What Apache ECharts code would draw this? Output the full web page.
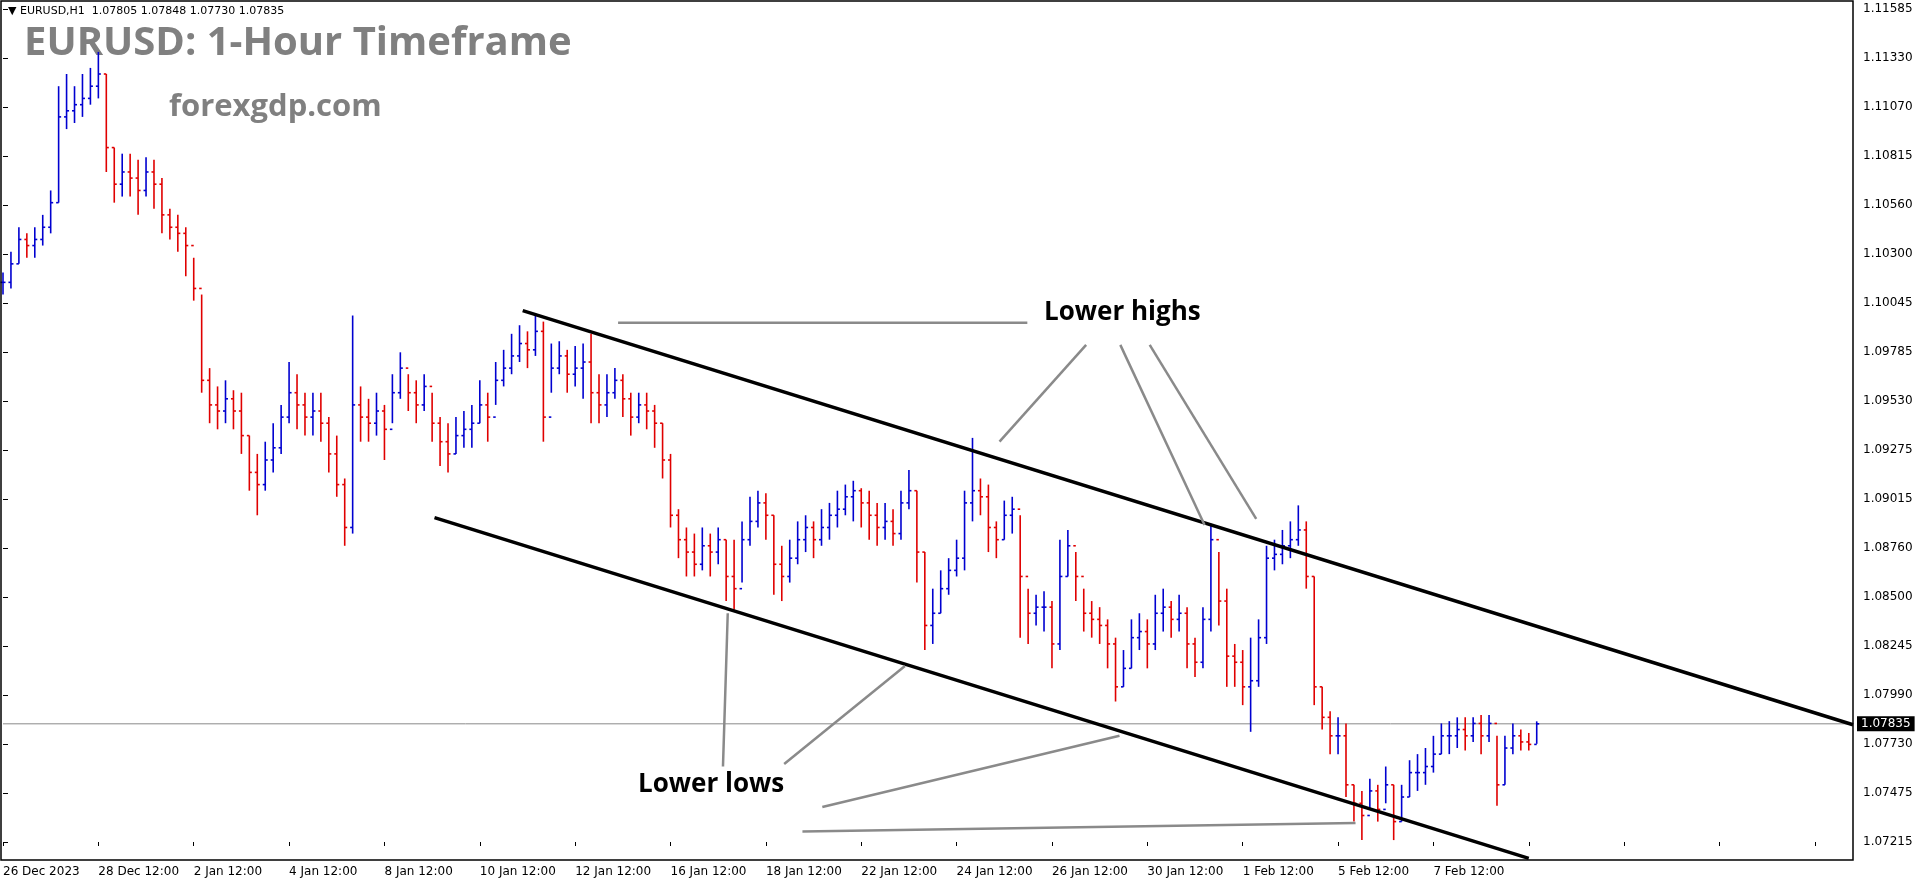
<!DOCTYPE html>
<html><head><meta charset="utf-8">
<script src="https://cdn.jsdelivr.net/npm/echarts@6/dist/echarts.min.js"></script>
<style>html,body{margin:0;padding:0;background:#fff}#c{width:1916px;height:884px}</style>
</head><body><div id="c"></div>
<script>
const closes=[1.10151,1.10248,1.10376,1.10344,1.10376,1.10440,1.10569,1.11019,1.11051,1.11083,1.11116,1.11180,1.11244,1.10858,1.10666,1.10730,1.10698,1.10633,1.10730,1.10666,
1.10505,1.10440,1.10408,1.10344,1.10119,1.09637,1.09508,1.09476,1.09540,1.09476,1.09347,1.09154,1.09090,1.09219,1.09283,1.09444,1.09572,1.09508,1.09444,1.09476,
1.09412,1.09251,1.09090,1.08865,1.09508,1.09444,1.09412,1.09476,1.09380,1.09572,1.09701,1.09572,1.09508,1.09605,1.09412,1.09315,1.09251,1.09347,1.09380,1.09412,
1.09508,1.09444,1.09637,1.09701,1.09765,1.09830,1.09797,1.09894,1.09444,1.09701,1.09765,1.09669,1.09701,1.09733,1.09572,1.09508,1.09572,1.09637,1.09540,1.09444,
1.09508,1.09476,1.09412,1.09219,1.08929,1.08801,1.08736,1.08672,1.08769,1.08736,1.08801,1.08608,1.08544,1.08801,1.08897,1.08994,1.08929,1.08672,1.08608,1.08704,
1.08801,1.08865,1.08801,1.08865,1.08929,1.08961,1.09026,1.09058,1.08994,1.08929,1.08865,1.08897,1.08833,1.08994,1.09058,1.08736,1.08351,1.08415,1.08544,1.08640,
1.08704,1.08994,1.09058,1.09026,1.08865,1.08801,1.08929,1.08961,1.08608,1.08415,1.08447,1.08447,1.08254,1.08608,1.08769,1.08608,1.08415,1.08383,1.08351,1.08254,
1.08029,1.08126,1.08287,1.08319,1.08254,1.08415,1.08447,1.08383,1.08415,1.08254,1.08158,1.08383,1.08801,1.08479,1.08190,1.08158,1.08029,1.08061,1.08287,1.08704,
1.08724,1.08769,1.08801,1.08852,1.08608,1.08029,1.07869,1.07772,1.07772,1.07515,1.07418,1.07354,1.07483,1.07386,1.07515,1.07322,1.07451,1.07579,1.07579,1.07611,
1.07676,1.07772,1.07772,1.07805,1.07772,1.07837,1.07772,1.07837,1.07515,1.07708,1.07772,1.07740,1.07727,1.07835];
const highs=[1.10203,1.10312,1.10440,1.10408,1.10440,1.10505,1.10633,1.11180,1.11244,1.11180,1.11244,1.11276,1.11360,1.11244,1.10858,1.10826,1.10826,1.10794,1.10807,1.10794,
1.10698,1.10537,1.10505,1.10440,1.10280,1.10087,1.09701,1.09605,1.09637,1.09585,1.09572,1.09347,1.09251,1.09315,1.09412,1.09508,1.09733,1.09669,1.09572,1.09572,
1.09572,1.09444,1.09347,1.09122,1.09977,1.09605,1.09540,1.09572,1.09508,1.09669,1.09784,1.09669,1.09637,1.09669,1.09572,1.09444,1.09412,1.09444,1.09476,1.09508,
1.09637,1.09572,1.09733,1.09797,1.09881,1.09926,1.09894,1.09990,1.09945,1.09830,1.09842,1.09797,1.09817,1.09830,1.09881,1.09669,1.09669,1.09701,1.09669,1.09572,
1.09572,1.09572,1.09508,1.09412,1.09251,1.08961,1.08865,1.08833,1.08865,1.08833,1.08865,1.08801,1.08801,1.08897,1.09026,1.09058,1.09045,1.08929,1.08769,1.08801,
1.08897,1.08929,1.08897,1.08961,1.08994,1.09058,1.09090,1.09110,1.09071,1.09058,1.08994,1.08994,1.08961,1.09058,1.09167,1.09058,1.08736,1.08544,1.08640,1.08704,
1.08801,1.09058,1.09335,1.09122,1.09090,1.08897,1.09006,1.09026,1.08929,1.08544,1.08512,1.08531,1.08479,1.08801,1.08852,1.08736,1.08544,1.08479,1.08447,1.08383,
1.08287,1.08222,1.08383,1.08415,1.08383,1.08512,1.08544,1.08479,1.08512,1.08447,1.08287,1.08447,1.08884,1.08736,1.08544,1.08254,1.08222,1.08287,1.08383,1.08769,
1.08801,1.08852,1.08897,1.08981,1.08897,1.08608,1.08029,1.07901,1.07869,1.07837,1.07515,1.07483,1.07547,1.07515,1.07611,1.07515,1.07515,1.07644,1.07676,1.07708,
1.07772,1.07837,1.07849,1.07869,1.07869,1.07869,1.07881,1.07881,1.07772,1.07772,1.07837,1.07805,1.07787,1.07848];
const lows=[1.10087,1.10119,1.10248,1.10280,1.10280,1.10344,1.10408,1.10569,1.10955,1.10987,1.11019,1.11083,1.11116,1.10730,1.10569,1.10601,1.10601,1.10505,1.10601,1.10537,
1.10408,1.10376,1.10312,1.10183,1.10055,1.09572,1.09412,1.09380,1.09412,1.09380,1.09251,1.09058,1.08929,1.09058,1.09154,1.09251,1.09412,1.09380,1.09347,1.09347,
1.09315,1.09154,1.09026,1.08769,1.08833,1.09315,1.09315,1.09347,1.09219,1.09412,1.09540,1.09476,1.09412,1.09476,1.09315,1.09187,1.09154,1.09251,1.09283,1.09283,
1.09412,1.09315,1.09508,1.09605,1.09669,1.09733,1.09701,1.09765,1.09315,1.09572,1.09669,1.09572,1.09605,1.09540,1.09412,1.09412,1.09444,1.09540,1.09444,1.09347,
1.09412,1.09380,1.09283,1.09122,1.08865,1.08704,1.08608,1.08608,1.08640,1.08608,1.08672,1.08479,1.08434,1.08576,1.08769,1.08865,1.08801,1.08512,1.08479,1.08576,
1.08672,1.08736,1.08704,1.08769,1.08801,1.08865,1.08929,1.08897,1.08865,1.08801,1.08769,1.08801,1.08769,1.08801,1.08961,1.08576,1.08222,1.08254,1.08415,1.08512,
1.08608,1.08640,1.08897,1.08929,1.08736,1.08704,1.08801,1.08833,1.08287,1.08254,1.08351,1.08319,1.08126,1.08222,1.08608,1.08479,1.08319,1.08287,1.08254,1.08126,
1.07952,1.08029,1.08126,1.08222,1.08126,1.08222,1.08319,1.08287,1.08319,1.08126,1.08081,1.08126,1.08319,1.08351,1.08029,1.08029,1.07933,1.07793,1.08029,1.08254,
1.08640,1.08672,1.08704,1.08769,1.08544,1.07933,1.07805,1.07676,1.07676,1.07451,1.07322,1.07225,1.07386,1.07322,1.07418,1.07225,1.07322,1.07451,1.07483,1.07515,
1.07579,1.07676,1.07676,1.07708,1.07695,1.07740,1.07676,1.07740,1.07405,1.07515,1.07676,1.07695,1.07695,1.07730];
const timeLabels=['26 Dec 2023','28 Dec 12:00','2 Jan 12:00','4 Jan 12:00','8 Jan 12:00','10 Jan 12:00','12 Jan 12:00','16 Jan 12:00','18 Jan 12:00','22 Jan 12:00','24 Jan 12:00','26 Jan 12:00','30 Jan 12:00','1 Feb 12:00','5 Feb 12:00','7 Feb 12:00'];
const priceLabels=['1.07215','1.07475','1.07730','1.07990','1.08245','1.08500','1.08760','1.09015','1.09275','1.09530','1.09785','1.10045','1.10300','1.10560','1.10815','1.11070','1.11330','1.11585'];
const lastPrice=1.07835;
const upperChannel=[[65.4,1.10003],[232.8,1.07830]];
const lowerChannel=[[54.3,1.08917],[192,1.07129]];
const highsPointers=[[[77.4,1.09939],[128.9,1.09939]],[[136.3,1.09823],[125.4,1.09315]],[[140.6,1.09823],[151.2,1.08878]],[[144.3,1.09823],[157.7,1.08910]]];
const lowsPointers=[[[91.2,1.08415],[90.6,1.07611]],[[113.5,1.08138],[98.3,1.07624]],[[140.5,1.07772],[103.1,1.07399]],[[170.2,1.07315],[100.6,1.07270]]];

const pMin=1.07215,pMax=1.11585,pInt=(pMax-pMin)/17;
const bars=closes.map((c,i)=>[i,i?closes[i-1]:c,highs[i],lows[i],c]);
const lineSeries=(pts,color,w)=>({type:'line',data:pts,symbol:'none',clip:false,silent:true,lineStyle:{color:color,width:w},z:5});
const series=[
 {type:'line',data:[[0,lastPrice],[232.8,lastPrice]],symbol:'none',silent:true,lineStyle:{color:'#8a8a8a',width:1},z:1,
  endLabel:{show:true,formatter:'1.07835',color:'#fff',backgroundColor:'#000',padding:[2,4,1,4],fontSize:12,fontFamily:'DejaVu Sans',distance:4}},
 {type:'custom',data:bars,clip:false,encode:{x:0,y:[1,2,3,4]},z:3,
 renderItem:(p,api)=>{const i=api.value(0),o=api.value(1),h=api.value(2),l=api.value(3),c=api.value(4);
  const ph=api.coord([i,h]),pl=api.coord([i,l]),po=api.coord([i,o]),pc=api.coord([i,c]);
  const col=c>=o?'#0000d0':'#e00000';const st={stroke:col,lineWidth:1.6};
  return {type:'group',children:[
   {type:'line',shape:{x1:ph[0],y1:ph[1],x2:pl[0],y2:pl[1]},style:st},
   {type:'line',shape:{x1:po[0]-2.5,y1:po[1],x2:po[0],y2:po[1]},style:st},
   {type:'line',shape:{x1:pc[0],y1:pc[1],x2:pc[0]+2.5,y2:pc[1]},style:st}]};}},
 lineSeries(upperChannel,'#000',3.5),lineSeries(lowerChannel,'#000',3.5)
];
highsPointers.concat(lowsPointers).forEach(p=>series.push(lineSeries(p,'#8a8a8a',2.5)));
const chart=echarts.init(document.getElementById('c'));
chart.setOption({animation:false,
 grid:{left:3,right:63,top:9,bottom:42},
 xAxis:{type:'value',min:0,max:232.8,interval:12,splitLine:{show:false},axisLine:{show:false},
  axisTick:{show:true,length:4,inside:false,lineStyle:{color:'#000'}},
  axisLabel:{color:'#000',fontSize:12,fontFamily:'DejaVu Sans',align:'left',margin:24,showMaxLabel:false,
   formatter:v=>timeLabels[Math.round(v/12)]||''}},
 yAxis:{type:'value',position:'right',min:pMin,max:pMax,interval:pInt,splitLine:{show:false},
  axisLine:{show:false},axisTick:{show:true,length:5,lineStyle:{color:'#000'}},
  axisLabel:{color:'#000',fontSize:12,fontFamily:'DejaVu Sans',margin:10,formatter:v=>priceLabels[Math.round((v-pMin)/pInt)]||''}},
 graphic:[
  {type:'rect',shape:{x:1,y:1,width:1852,height:859},style:{fill:'none',stroke:'#000',lineWidth:1.5},silent:true,z:10},
  {type:'text',left:8,top:6,style:{text:'▼ EURUSD,H1  1.07805 1.07848 1.07730 1.07835',fontSize:11,fontFamily:'DejaVu Sans',fill:'#000'}},
  {type:'text',left:24,top:24,style:{text:'EURUSD: 1-Hour Timeframe',fontSize:40,fontWeight:'bold',fontFamily:'Open Sans',fill:'#808080'}},
  {type:'text',left:169,top:92,style:{text:'forexgdp.com',fontSize:31,fontWeight:'bold',fontFamily:'Open Sans',fill:'#808080'}},
  {type:'text',left:1044,top:300,style:{text:'Lower highs',fontSize:26,fontWeight:'bold',fontFamily:'Open Sans',fill:'#000'}},
  {type:'text',left:638,top:772,style:{text:'Lower lows',fontSize:26,fontWeight:'bold',fontFamily:'Open Sans',fill:'#000'}}
 ],
 series:series});
</script></body></html>
